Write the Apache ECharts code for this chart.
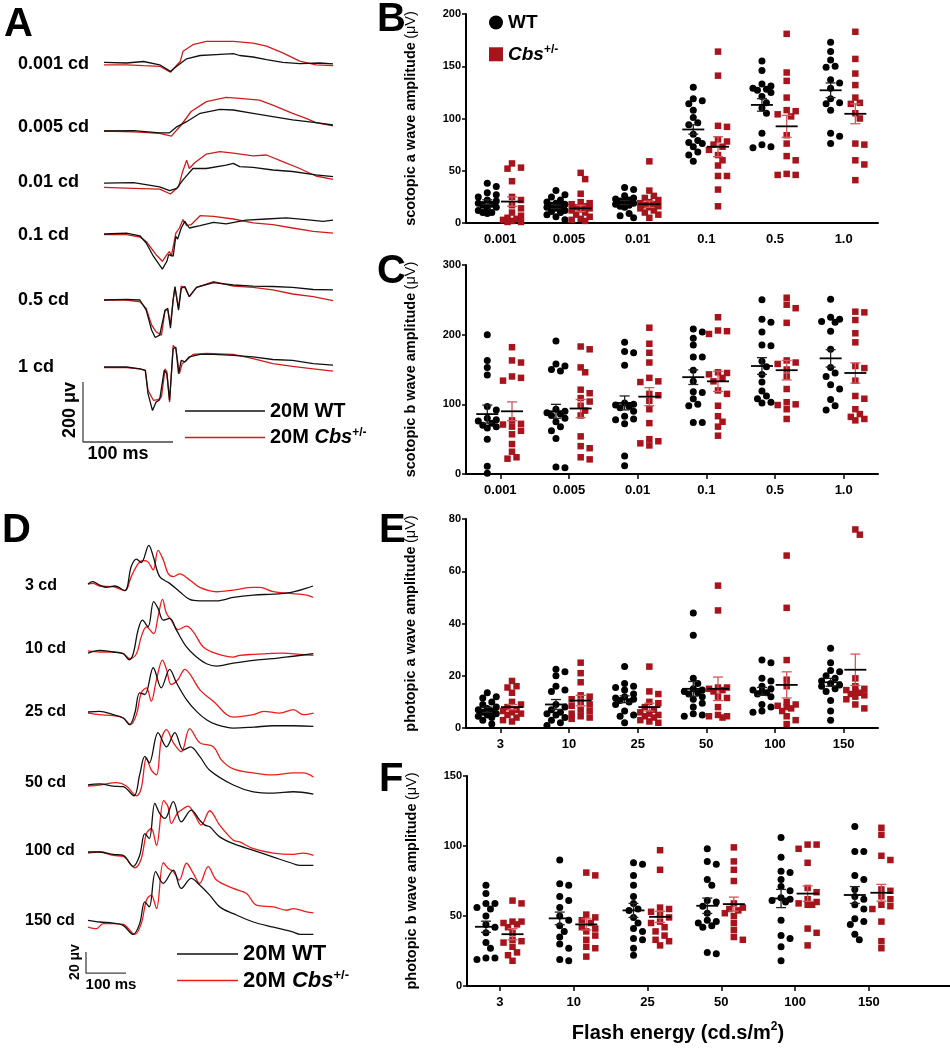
<!DOCTYPE html>
<html><head><meta charset="utf-8">
<script src="https://cdn.jsdelivr.net/npm/echarts@6/dist/echarts.min.js"></script>
<style>html,body{margin:0;padding:0;background:#fff}#c{width:950px;height:1050px}</style>
</head><body><div id="c"></div>
<script>
// ---------- categories ----------
const scotopicCats = ['0.001', '0.005', '0.01', '0.1', '0.5', '1.0'];
const photopicCats = ['3', '10', '25', '50', '100', '150'];
const scotopicRowLabels = ['0.001 cd', '0.005 cd', '0.01 cd', '0.1 cd', '0.5 cd', '1 cd'];
const photopicRowLabels = ['3 cd', '10 cd', '25 cd', '50 cd', '100 cd', '150 cd'];

// ---------- B: scotopic a wave (uV) ----------
const bWT = [
  [38,35,29,27,25,22,21,19,18,17,15,14,12,10,10,9],
  [31,27,25,22,20,19,18,17,16,15,14,12,11,10,8,6,3],
  [34,32,26,24,23,22,21,20,19,18,17,16,15,9,7,5],
  [130,119,117,114,108,101,96,94,85,79,77,76,73,68,65,59],
  [155,146,133,131,129,128,127,125,121,115,110,105,86,75,73,72],
  [173,164,156,150,149,137,134,129,119,115,114,108,86,83,76]
];
const bCbs = [
  [57,53,52,40,25,22,17,14,10,7,5,4,3,2,1,1],
  [48,42,28,20,19,18,16,15,14,13,12,10,8,6,4,3,2],
  [59,31,26,24,22,20,19,18,17,16,15,14,12,10,8,5],
  [164,141,93,92,80,78,75,73,70,65,60,55,45,45,32,16],
  [181,144,136,120,108,107,104,102,84,76,64,60,47,46,46],
  [183,157,143,132,120,115,114,105,100,76,75,60,56,41]
];
const bWTMean = [20,15.5,19.5,89.5,113,127];
const bWTSem = [2.2,1.8,2,4.5,6,7];
const bCbsMean = [20.5,14,18,73,92.5,104.5];
const bCbsSem = [4.5,3,3,9.5,10.5,9.5];

// ---------- C: scotopic b wave (uV) ----------
const cWT = [
  [200,163,153,142,97,92,80,78,76,73,70,68,66,50,11,1],
  [191,158,155,150,148,93,90,88,86,84,80,75,68,62,51,10,9],
  [189,176,174,156,102,100,99,97,95,90,83,79,78,72,26,12],
  [208,204,195,185,168,168,149,133,118,117,108,100,98,74,74],
  [250,222,218,204,185,184,162,154,143,132,119,112,108,103,102],
  [251,225,222,219,218,205,179,153,145,140,128,122,107,98,92]
];
const cCbs = [
  [182,163,160,140,138,134,77,72,71,68,62,57,43,32,24,22],
  [183,179,153,146,121,116,109,104,98,91,84,54,40,37,24,21],
  [210,187,174,160,138,133,132,115,113,105,93,73,50,47,44,41],
  [225,206,205,201,146,145,143,138,133,120,115,98,83,75,68,55],
  [253,243,238,217,163,160,158,150,140,122,103,100,99,93,79],
  [233,232,221,202,189,155,152,134,112,108,93,86,82,79,77]
];
const cWTMean = [86,90,102,139,155,166];
const cWTSem = [13,10,10,10.5,12,12.5];
const cCbsMean = [90,94,111,133,149,145];
const cCbsSem = [13.5,13,13,14.5,14,14.5];

// ---------- E: photopic a wave (uV) ----------
const eWT = [
  [13.5,12,11.5,10,9,8,7.5,7,6.5,6,5.5,5,4.5,4,3,1.5],
  [22.5,21.5,20,16,14.5,14,9,8,7,6,5.5,5,4,3,2,1],
  [23.5,17,16,15.5,14.5,13,12,11.5,11,10.5,10,9,6.5,5,4.5,2],
  [44,35.5,19,17,15,14.5,14,13.5,13,12,11,9.5,8,5.5,5,4.5],
  [26,25,19,18,16,15,14.5,14,13.5,13,12,9,8,6.5,6],
  [30.5,25,22,21.5,20,19,18,17,16.5,16,15,14,10.5,6.5,3]
];
const eCbs = [
  [18,16,15.5,13.5,10,9,8,7,6.5,6,5.5,5,4,3,2.5],
  [25,21,17.5,12.5,12,11,10,9,8.5,7,6.5,5.5,4.5,4,3.5],
  [23.5,14,13,10,9.5,8,7,6,5.5,5,4.5,4,3,2.5,2],
  [54.5,45,15.5,15.5,15,14.5,14,12,11.5,8,5,4.5,4.5,4],
  [66,46,26,18.5,16,10,9,8.5,8,7.5,6.5,4.5,3,1.5],
  [76,74,19,16,15,14.5,14,13.5,13,12.5,12,11,9,7.5]
];
const eWTMean = [7,9,11,15,14,17.5];
const eWTSem = [1,1.9,1.3,2.8,1.5,1.5];
const eCbsMean = [8,10.5,8,15,16.5,22.3];
const eCbsSem = [1,2,1.5,4.5,5,6];

// ---------- F: photopic b wave (uV) ----------
const fWT = [
  [72,66,59,59,56,55,50,44,42,38,31,27,20,20,19],
  [90,73,72,64,61,56,50,47,43,39,35,30,27,19,18],
  [88,87,79,72,64,59,55,54,49,45,41,39,34,33,27,22],
  [98,89,87,76,72,61,60,57,52,47,46,45,43,42,24,23],
  [106,92,82,81,76,71,68,63,62,61,60,47,36,34,28,18],
  [114,96,96,79,76,69,64,62,58,55,48,46,44,37,33]
];
const fCbs = [
  [61,59,46,46,45,44,42,38,33,32,31,28,24,22,18],
  [81,79,51,49,47,45,42,41,39,36,33,28,27,21],
  [97,83,56,55,53,51,49,46,45,42,39,36,33,32,29],
  [99,89,83,75,59,56,55,54,52,50,45,40,35,33],
  [101,101,98,88,70,67,62,60,59,58,58,41,38,29],
  [113,108,93,90,69,68,64,62,58,57,55,46,32,27]
];
const fWTMean = [42.3,48.3,54,57.3,62.5,65];
const fWTSem = [4,4.5,5,5.5,6.5,6];
const fCbsMean = [37,44,49.4,58.5,66,66.6];
const fCbsSem = [4,4,4,5,5.5,6];

// ---------- A: scotopic ERG traces [ms, uV] ----------
const trA0001WT = [[0,2],[25,0],[44,5],[62,-6],[74,-28],[81,-11],[92,14],[107,25],[125,28],[144,31],[151,25],[166,20],[181,11],[199,2],[218,-2],[240,0],[255,-3]];
const trA0001Cbs = [[0,-6],[25,-6],[44,-9],[62,-11],[74,-31],[85,6],[88,39],[99,61],[114,72],[144,72],[166,66],[181,56],[199,34],[218,6],[236,-6],[255,-9]];
const trA0005WT = [[0,0],[33,1],[62,-6],[73,-6],[81,14],[92,31],[107,59],[129,72],[144,70],[166,59],[188,48],[210,37],[236,28],[255,20]];
const trA0005Cbs = [[0,0],[33,-3],[62,-8],[75,-17],[86,20],[97,65],[114,98],[136,112],[151,109],[173,103],[188,86],[210,59],[225,42],[236,28],[255,17]];
const trA001WT = [[0,6],[33,8],[62,-6],[73,-19],[81,-11],[88,17],[99,55],[114,55],[136,66],[144,72],[151,61],[166,59],[188,50],[210,45],[236,34],[255,28]];
const trA001Cbs = [[0,-8],[33,-11],[62,-14],[74,-30],[83,-6],[87,39],[92,83],[95,55],[101,74],[114,103],[129,111],[144,106],[166,97],[181,100],[199,78],[218,55],[236,30],[255,19]];
const trA01WT = [[0,0],[25,3],[40,-6],[47,-30],[55,-74],[65,-117],[70,-91],[72,-69],[74,-63],[77,-74],[80,-8],[82,-17],[86,20],[90,42],[95,20],[107,28],[122,39],[136,34],[158,46],[181,50],[203,54],[225,48],[244,42],[255,46]];
const trA01Cbs = [[0,-2],[25,-2],[40,-10],[47,-25],[58,-69],[65,-91],[70,-69],[73,-58],[75,-74],[80,3],[84,20],[88,48],[92,28],[97,31],[107,61],[122,59],[144,50],[166,37],[188,31],[210,20],[233,9],[255,3]];
const trA05WT = [[0,0],[25,2],[40,0],[47,-34],[53,-100],[57,-125],[62,-117],[68,-34],[71,-28],[74,-94],[77,0],[79,45],[83,-34],[86,39],[90,45],[95,11],[103,42],[122,58],[144,50],[166,46],[188,45],[210,42],[233,35],[255,34]];
const trA05Cbs = [[0,0],[25,0],[40,-6],[47,-28],[53,-83],[58,-106],[64,-117],[68,-34],[71,-34],[74,-83],[77,0],[79,42],[83,-28],[86,46],[90,42],[95,11],[103,42],[122,61],[144,46],[166,42],[188,34],[210,20],[233,11],[255,-2]];
const trA1WT = [[0,0],[25,0],[40,-6],[46,-11],[49,-89],[54,-145],[58,-117],[62,-109],[67,-11],[70,-22],[73,-111],[77,61],[80,66],[83,-22],[86,22],[90,17],[95,34],[107,42],[122,42],[144,39],[166,34],[188,25],[210,22],[233,11],[255,6]];
const trA1Cbs = [[0,-2],[25,-2],[40,-6],[46,-11],[49,-78],[55,-111],[60,-109],[64,-100],[68,-6],[70,-17],[73,-117],[77,72],[80,61],[84,-22],[87,11],[92,22],[99,42],[114,45],[144,42],[166,28],[188,11],[210,2],[233,-6],[255,-14]];

// ---------- D: photopic ERG traces [ms, uV] ----------
const trD3WT = [[0,0],[12,2.2],[29,-1],[46,-3.2],[67,-1.9],[92,-6.3],[108,16.5],[121,23.5],[133,20.3],[152,36.5],[163,26],[179,7],[204,0.6],[229,-7.3],[254,-14.6],[279,-15.9],[321,-15.9],[363,-12.7],[413,-10.5],[463,-9.5],[504,-8.2],[546,-4],[562,-1.9]];
const trD3Cbs = [[0,0],[12,0.6],[29,-1.9],[62,-2.5],[92,-6.3],[108,7],[125,19],[137,22.2],[150,20.9],[163,13.3],[175,31.7],[188,22.8],[200,10.1],[213,7],[229,9.5],[254,3.8],[279,-3.2],[321,-7.3],[363,-5.7],[413,-3.2],[429,-3.2],[463,-7.3],[504,-8.9],[546,-10.5],[562,-12.7]];
const trD10WT = [[0,-1],[29,1.6],[63,0],[88,-1.6],[103,-7.3],[113,-1.6],[125,20.6],[136,30.1],[150,23.8],[164,47.6],[175,41.2],[188,30.1],[204,31.7],[221,20.6],[246,4.8],[271,-4.8],[296,-11.1],[321,-13.3],[363,-10.5],[413,-7.9],[463,-6.3],[513,-4],[563,-1.6]];
const trD10Cbs = [[0,1],[29,0],[63,0],[88,-1.6],[104,-6.3],[121,-1.6],[133,14.3],[146,23.8],[164,17.4],[175,33.3],[186,49.8],[196,36.5],[208,30.1],[225,21.2],[246,24.4],[263,19],[288,4.8],[321,-1.6],[363,-4.8],[379,-3.2],[413,-2.2],[446,-1.6],[488,-1],[529,-2.2],[563,-3.2]];
const trD25WT = [[0,0],[29,0.6],[63,-2.5],[88,-5.7],[104,-12],[117,-1],[129,18],[142,16.5],[163,41.8],[183,22.8],[204,40.3],[221,27.6],[246,11.7],[271,0.6],[296,-7.3],[321,-12],[363,-15.2],[413,-14.3],[463,-13],[513,-13],[563,-13.6]];
const trD25Cbs = [[0,-1],[29,-2.5],[63,-3.5],[88,-5.7],[106,-12],[121,-2.5],[133,18],[146,22.8],[158,10.1],[171,30.4],[186,49.1],[196,40.3],[208,26],[225,30.7],[242,40.3],[258,34],[279,21.2],[313,10.1],[363,-4.8],[413,-2.5],[438,0.6],[479,-1],[513,2.2],[538,-2.5],[563,-1]];
const trD50WT = [[0,0],[29,1],[63,-1],[88,-1.6],[115,-10.2],[129,9.5],[142,27],[153,21],[175,49.5],[196,36],[217,49.5],[238,33],[256,36],[279,27],[304,14],[363,0],[413,-6.4],[463,-7.6],[513,-6.4],[563,-8.6]];
const trD50Cbs = [[0,-1],[29,0],[71,2.2],[96,-1],[121,-10.2],[133,-3.1],[146,25.7],[158,14.3],[171,9.5],[183,42.9],[196,52.4],[213,40],[233,31.4],[254,53.3],[279,40],[313,36.2],[333,23.8],[363,15.2],[413,11.4],[463,9.5],[513,11.4],[538,11.4],[563,7.6]];
const trD100WT = [[0,0],[29,0],[63,-2.2],[88,-3.2],[113,-13.6],[129,-3.2],[142,17.4],[153,12.7],[167,46],[179,36.5],[192,31.7],[213,47.6],[233,28.5],[258,39.6],[279,30.1],[292,25.4],[304,23.8],[329,14.3],[363,7.9],[413,1.6],[463,-4.8],[513,-11.1],[529,-12.7],[563,-12.7]];
const trD100Cbs = [[0,-1],[29,0],[63,-3.2],[88,-4.1],[117,-14.9],[133,-6.3],[146,17.4],[158,22.2],[171,6.3],[189,48.5],[200,42.8],[208,26.9],[223,36.5],[233,39.6],[250,43.4],[267,34.9],[283,25.4],[304,39],[329,25.4],[363,11.1],[379,9.5],[413,3.2],[463,-1],[513,-2.2],[538,-1],[563,-3.2]];
const trD150WT = [[0,1.6],[29,0],[63,-1],[88,-3.2],[113,-11.7],[129,-1.6],[142,19],[153,14.3],[169,47.6],[188,36.5],[213,49.1],[233,31.7],[258,41.2],[279,34.9],[304,25.4],[329,14.3],[363,7.9],[413,0],[463,-4.8],[513,-9.5],[529,-11.7],[563,-11.7]];
const trD150Cbs = [[0,-4.8],[21,-6.3],[38,-1.6],[63,-1.6],[88,-2.2],[117,-11.7],[133,-1.6],[146,20.6],[158,25.4],[171,12.7],[188,56.1],[200,50.7],[213,47.6],[228,39.6],[246,55.5],[263,45.9],[279,36.5],[300,52.3],[321,39.6],[363,31.7],[396,26.9],[421,15.9],[463,14.3],[496,11.1],[513,12.7],[546,9.5],[563,8.6]];

// scale bars [ms, uV]
const scaleBarA = [[0,200],[0,0],[100,0]];
const scaleBarD = [[0,20],[0,0],[100,0]];

// ---------- layout ----------
const FONT = '"Liberation Sans", Arial, Helvetica, sans-serif';
const BLACK = '#000000';
const RED_DARK = '#a8141c';
const RED_BAR = '#d4585c';
const RED_TRACE_A = '#d01c1c';
const RED_TRACE_D = '#f01a1a';

const grids = [], xAxes = [], yAxes = [], series = [];
function addGrid(g, x, y) {
  grids.push(g);
  const gi = grids.length - 1;
  xAxes.push(Object.assign({gridIndex: gi}, x));
  yAxes.push(Object.assign({gridIndex: gi}, y));
  return gi;
}
const hidden = {show: false};

// A trace rows
const aTraces = [[trA0001WT,trA0001Cbs],[trA0005WT,trA0005Cbs],[trA001WT,trA001Cbs],[trA01WT,trA01Cbs],[trA05WT,trA05Cbs],[trA1WT,trA1Cbs]];
const aBase = [63, 131, 185, 234, 300, 367];
aTraces.forEach((pair, i) => {
  const gi = addGrid({left: 104, top: aBase[i] - 60, width: 229, height: 120},
    Object.assign({type: 'value', min: 0, max: 255}, hidden),
    Object.assign({type: 'value', min: -200, max: 200}, hidden));
  series.push({type: 'line', name: 'A WT', xAxisIndex: gi, yAxisIndex: gi, data: pair[0], symbol: 'none', silent: true,
    lineStyle: {color: '#111', width: 1.3}, itemStyle: {color: '#111'}, z: 3});
  series.push({type: 'line', name: 'A Cbs', xAxisIndex: gi, yAxisIndex: gi, data: pair[1], symbol: 'none', silent: true,
    lineStyle: {color: RED_TRACE_A, width: 1.3}, itemStyle: {color: RED_TRACE_A}, z: 2});
});
{
  const gi = addGrid({left: 83, top: 382, width: 90, height: 60},
    Object.assign({type: 'value', min: 0, max: 100}, hidden),
    Object.assign({type: 'value', min: 0, max: 200}, hidden));
  series.push({type: 'line', name: 'scaleA', xAxisIndex: gi, yAxisIndex: gi, data: scaleBarA, symbol: 'none', silent: true,
    clip: false, lineStyle: {color: '#444', width: 1.3}});
}

// D trace rows
const dTraces = [[trD3WT,trD3Cbs],[trD10WT,trD10Cbs],[trD25WT,trD25Cbs],[trD50WT,trD50Cbs],[trD100WT,trD100Cbs],[trD150WT,trD150Cbs]];
const dBase = [584, 652, 712, 785, 852, 922];
dTraces.forEach((pair, i) => {
  const gi = addGrid({left: 88, top: dBase[i] - 63.5, width: 225, height: 127},
    Object.assign({type: 'value', min: 0, max: 562}, hidden),
    Object.assign({type: 'value', min: -60, max: 60}, hidden));
  series.push({type: 'line', name: 'D WT', xAxisIndex: gi, yAxisIndex: gi, data: pair[0], symbol: 'none', silent: true, smooth: 0.35,
    lineStyle: {color: '#111', width: 1.3}, itemStyle: {color: '#111'}, z: 3});
  series.push({type: 'line', name: 'D Cbs', xAxisIndex: gi, yAxisIndex: gi, data: pair[1], symbol: 'none', silent: true, smooth: 0.35,
    lineStyle: {color: RED_TRACE_D, width: 1.3}, itemStyle: {color: RED_TRACE_D}, z: 2});
});
{
  const gi = addGrid({left: 86, top: 952, width: 40, height: 21.2},
    Object.assign({type: 'value', min: 0, max: 100}, hidden),
    Object.assign({type: 'value', min: 0, max: 20}, hidden));
  series.push({type: 'line', name: 'scaleD', xAxisIndex: gi, yAxisIndex: gi, data: scaleBarD, symbol: 'none', silent: true,
    clip: false, lineStyle: {color: '#444', width: 1.3}});
}

// compact beeswarm placement (deterministic; offsets limited to +-2 steps)
function swarm(values, center, pxPerX, pxPerY, dia) {
  const order = values.map((v, i) => ({v, i})).sort((a, b) => b.v - a.v);
  const placed = [];
  const out = [];
  const step = 4.5;
  const cands = [0, step, -step, 2 * step, -2 * step];
  order.forEach(p => {
    const y = p.v * pxPerY;
    let off = null, best = 0, bestD = -1;
    for (const c of cands) {
      const d = placed.reduce((m, q) => Math.min(m, Math.hypot(q.x - c, q.y - y)), Infinity);
      if (d >= dia) { off = c; break; }
      if (d > bestD) { bestD = d; best = c; }
    }
    if (off === null) off = best;
    placed.push({x: off, y});
    out.push([center + off / pxPerX, p.v]);
  });
  return out;
}

function meanSemRender(lineColor, barColor) {
  return function (params, api) {
    const x = api.value(0), m = api.value(1), s = api.value(2);
    const c = api.coord([x, m]);
    const t = api.coord([x, m + s]);
    const b = api.coord([x, m - s]);
    const hw = 11, cw = 5;
    return {type: 'group', children: [
      {type: 'line', shape: {x1: c[0], y1: t[1], x2: c[0], y2: b[1]}, style: {stroke: barColor, lineWidth: 1.3}},
      {type: 'line', shape: {x1: c[0] - cw, y1: t[1], x2: c[0] + cw, y2: t[1]}, style: {stroke: barColor, lineWidth: 1.3}},
      {type: 'line', shape: {x1: c[0] - cw, y1: b[1], x2: c[0] + cw, y2: b[1]}, style: {stroke: barColor, lineWidth: 1.3}},
      {type: 'line', shape: {x1: c[0] - hw, y1: c[1], x2: c[0] + hw, y2: c[1]}, style: {stroke: lineColor, lineWidth: 1.8}}
    ]};
  };
}

const panels = [
  {top: 14, height: 209, left: 466, width: 412, xmin: 0, xmax: 6, ymax: 200, yint: 50, cats: scotopicCats,
   name: 'scotopic a wave amplitude', wt: bWT, cbs: bCbs, wtM: bWTMean, wtS: bWTSem, cbM: bCbsMean, cbS: bCbsSem, ticks: false},
  {top: 265, height: 209, left: 466, width: 412, xmin: 0, xmax: 6, ymax: 300, yint: 100, cats: scotopicCats,
   name: 'scotopic b wave amplitude', wt: cWT, cbs: cCbs, wtM: cWTMean, wtS: cWTSem, cbM: cCbsMean, cbS: cCbsSem, ticks: true},
  {top: 519, height: 209, left: 466, width: 412, xmin: 0, xmax: 6, ymax: 80, yint: 20, cats: photopicCats,
   name: 'photopic a wave amplitude', wt: eWT, cbs: eCbs, wtM: eWTMean, wtS: eWTSem, cbM: eCbsMean, cbS: eCbsSem, ticks: true},
  {top: 776, height: 210, left: 467, width: 483, xmin: 0.053, xmax: 6.6, ymax: 150, yint: 50, cats: photopicCats,
   name: 'photopic b wave amplitude', wt: fWT, cbs: fCbs, wtM: fWTMean, wtS: fWTSem, cbM: fCbsMean, cbS: fCbsSem, ticks: true}
];
const centers = [0.5, 1.5, 2.5, 3.5, 4.5, 5.5];

panels.forEach(p => {
  const cats = p.cats;
  const gi = addGrid({left: p.left, top: p.top, width: p.width, height: p.height},
    {type: 'value', min: p.xmin, max: p.xmax,
     axisLine: {show: true, lineStyle: {color: BLACK, width: 2}},
     axisTick: {show: p.ticks, length: 5, customValues: centers, lineStyle: {color: BLACK, width: 1.5}},
     axisLabel: {show: true, customValues: centers, margin: 10, color: BLACK, fontFamily: FONT, fontWeight: 'bold', fontSize: 13,
                 formatter: v => cats[Math.round(v - 0.5)] || ''},
     splitLine: {show: false}},
    {type: 'value', min: 0, max: p.ymax, interval: p.yint,
     axisLine: {show: true, lineStyle: {color: BLACK, width: 2}},
     axisTick: {show: true, length: 4, lineStyle: {color: BLACK, width: 1.5}},
     axisLabel: {color: BLACK, fontFamily: FONT, fontWeight: 'bold', fontSize: 11, margin: 5},
     splitLine: {show: false},
     name: '{b|' + p.name + '} {n|(\u03bcV)}', nameLocation: 'middle', nameGap: 48, nameRotate: 90,
     nameTextStyle: {fontFamily: FONT, color: BLACK, rich: {
        b: {fontFamily: FONT, fontSize: 14.5, fontWeight: 'bold', color: BLACK},
        n: {fontFamily: FONT, fontSize: 14.5, fontWeight: 'normal', color: BLACK}}}});
  const pxX = p.width / (p.xmax - p.xmin);
  const pxY = p.height / p.ymax;
  const wtPts = [], cbPts = [], wtMs = [], cbMs = [];
  cats.forEach((c, i) => {
    const cw = centers[i] - 0.19, cc = centers[i] + 0.17;
    swarm(p.wt[i], cw, pxX, pxY, 6.5).forEach(d => wtPts.push(d));
    swarm(p.cbs[i], cc, pxX, pxY, 6.5).forEach(d => cbPts.push(d));
    wtMs.push([cw, p.wtM[i], p.wtS[i]]);
    cbMs.push([cc, p.cbM[i], p.cbS[i]]);
  });
  series.push({type: 'scatter', name: 'WT', xAxisIndex: gi, yAxisIndex: gi, data: wtPts, symbol: 'circle', symbolSize: 7,
    itemStyle: {color: BLACK, opacity: 1}, z: 3, silent: true});
  series.push({type: 'scatter', name: 'Cbs', xAxisIndex: gi, yAxisIndex: gi, data: cbPts, symbol: 'rect', symbolSize: 6.5,
    itemStyle: {color: RED_DARK, opacity: 1}, z: 3, silent: true});
  series.push({type: 'custom', name: 'WT mean', xAxisIndex: gi, yAxisIndex: gi, data: wtMs, encode: {x: 0, y: 1},
    renderItem: meanSemRender(BLACK, '#222'), z: 5, silent: true});
  series.push({type: 'custom', name: 'Cbs mean', xAxisIndex: gi, yAxisIndex: gi, data: cbMs, encode: {x: 0, y: 1},
    renderItem: meanSemRender(BLACK, RED_BAR), z: 5, silent: true});
});

// ---------- text ----------
const graphic = [];
function txt(x, y, text, font, opts) {
  graphic.push(Object.assign({type: 'text', x, y, silent: true,
    style: Object.assign({text, font, fill: BLACK, align: 'left', verticalAlign: 'middle'}, (opts && opts.style) || {})},
    opts && opts.el ? opts.el : {}));
}
const letterFont = 'bold 40px ' + FONT;
txt(4, 25, 'A', letterFont);
txt(377, 20, 'B', letterFont);
txt(377, 272, 'C', letterFont);
txt(2, 531, 'D', letterFont);
txt(379, 531, 'E', letterFont);
txt(379, 780, 'F', letterFont);

scotopicRowLabels.forEach((t, i) => txt(18, [64, 127, 182, 235, 300, 367][i], t, 'bold 18px ' + FONT));
photopicRowLabels.forEach((t, i) => txt(25, [586, 649, 712, 783, 851, 921][i], t, 'bold 16px ' + FONT));

txt(70, 410, '200 \u03bcv', 'bold 18px ' + FONT, {style: {align: 'center'}, el: {rotation: Math.PI / 2}});
txt(118, 454, '100 ms', 'bold 18px ' + FONT, {style: {align: 'center'}});
txt(75, 962, '20 \u03bcv', 'bold 14px ' + FONT, {style: {align: 'center'}, el: {rotation: Math.PI / 2}});
txt(111, 985, '100 ms', 'bold 15px ' + FONT, {style: {align: 'center'}});

graphic.push({type: 'text', x: 678, y: 1033, silent: true, style: {
  text: '{t|Flash energy (cd.s/m}{s|2}{t|)}', align: 'center', verticalAlign: 'middle',
  rich: {t: {font: 'bold 20px ' + FONT, fill: BLACK, lineHeight: 24},
         s: {font: 'bold 12px ' + FONT, fill: BLACK, verticalAlign: 'top', lineHeight: 24, padding: [0, 0, 10, 0]}}}});

const supRich = (size, supSize) => ({
  n: {fontFamily: FONT, fontWeight: 'bold', fontSize: size, color: BLACK, lineHeight: size},
  i: {fontFamily: FONT, fontWeight: 'bold', fontStyle: 'italic', fontSize: size, color: BLACK, lineHeight: size},
  s: {fontFamily: FONT, fontWeight: 'bold', fontSize: supSize, color: BLACK, lineHeight: size, padding: [0, 0, size * 0.45, 0]}
});

const option = {
  backgroundColor: '#fff',
  animation: false,
  grid: grids,
  xAxis: xAxes,
  yAxis: yAxes,
  series: series,
  graphic: graphic,
  legend: [
    {data: [{name: 'WT', icon: 'circle'}, {name: 'Cbs', icon: 'rect'}], orient: 'vertical', left: 484, top: 8,
     itemWidth: 14, itemHeight: 14, itemGap: 12, selectedMode: false,
     formatter: n => n === 'WT' ? '{n|WT}' : '{i|Cbs}{s|+/-}',
     textStyle: {rich: supRich(19, 12)}},
    {data: [{name: 'A WT', icon: 'rect'}, {name: 'A Cbs', icon: 'rect'}], orient: 'vertical', left: 180, top: 396,
     itemWidth: 80, itemHeight: 1.5, itemGap: 6, selectedMode: false,
     formatter: n => n === 'A WT' ? '{n|20M WT}' : '{n|20M }{i|Cbs}{s|+/-}',
     textStyle: {rich: supRich(20, 12)}},
    {data: [{name: 'D WT', icon: 'rect'}, {name: 'D Cbs', icon: 'rect'}], orient: 'vertical', left: 172, top: 938,
     itemWidth: 61, itemHeight: 1.5, itemGap: 4, selectedMode: false,
     formatter: n => n === 'D WT' ? '{n|20M WT}' : '{n|20M }{i|Cbs}{s|+/-}',
     textStyle: {rich: supRich(22, 13)}}
  ]
};

const chart = echarts.init(document.getElementById('c'), null, {renderer: 'canvas'});
chart.setOption(option);
</script>
</body></html>
